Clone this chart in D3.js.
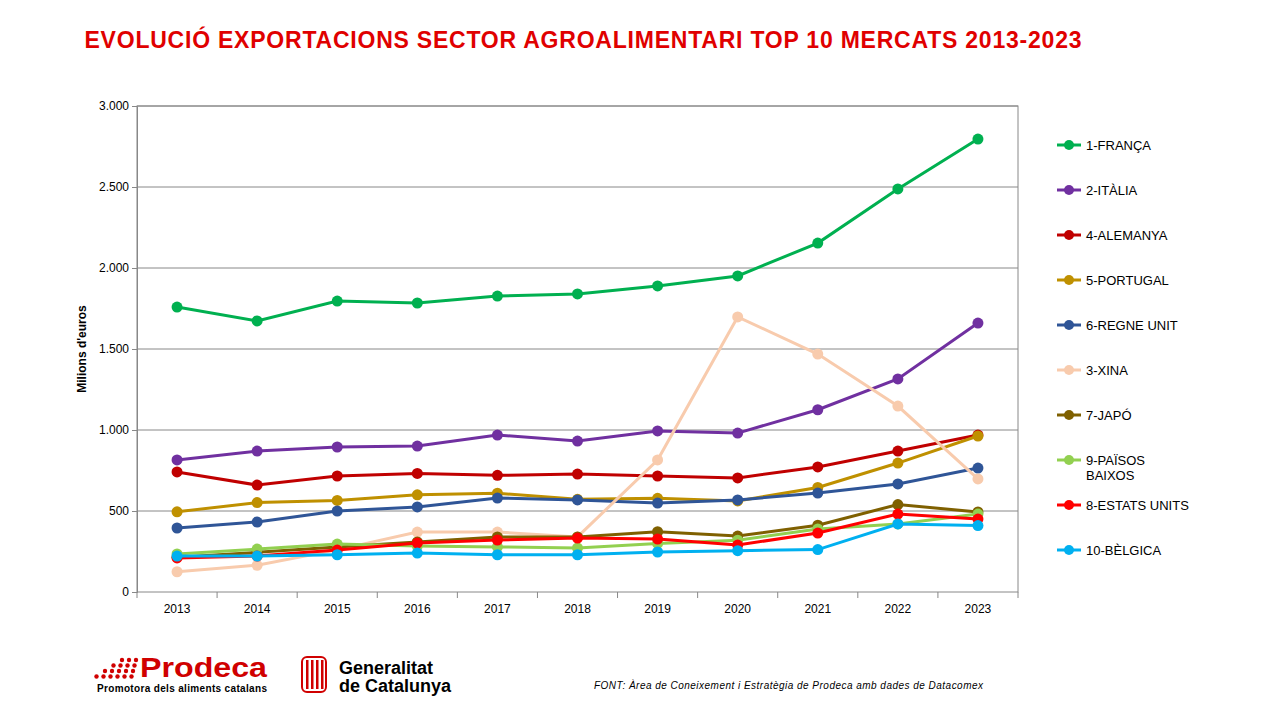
<!DOCTYPE html>
<html><head><meta charset="utf-8">
<script src="https://cdn.jsdelivr.net/npm/d3@7"></script>
<style>body{margin:0;background:#fff;font-family:Arial,"Liberation Sans",sans-serif}</style>
</head><body><svg id="c" width="1280" height="720"></svg>
<script>
var years = [2013,2014,2015,2016,2017,2018,2019,2020,2021,2022,2023];
var seriesNames = ['1-FRANÇA','2-ITÀLIA','4-ALEMANYA','5-PORTUGAL','6-REGNE UNIT','3-XINA','7-JAPÓ','9-PAÏSOS BAIXOS','8-ESTATS UNITS','10-BÈLGICA'];
var seriesColors = ['#00B050','#7030A0','#C00000','#BF9000','#2F5597','#F8CBAD','#7F6000','#92D050','#FF0000','#00B0F0'];
var franca   = [1759,1673,1796,1784,1827,1840,1889,1951,2154,2488,2796];
var italia   = [815,870,895,901,969,932,994,981,1125,1315,1660];
var alemanya = [741,660,716,732,720,728,716,704,772,870,969];
var portugal = [495,552,565,600,610,572,578,562,645,796,963];
var regneUnit= [395,432,500,525,580,568,549,568,611,667,765];
var xina     = [125,165,260,370,370,340,815,1698,1469,1148,698];
var japo     = [215,245,278,309,340,340,372,345,412,540,494];
var baixos   = [235,265,296,284,278,272,300,320,389,420,481];
var estats   = [210,222,259,302,321,333,327,290,364,481,450];
var belgica  = [222,222,230,240,230,230,247,255,262,420,410];
var allSeries = [franca,italia,alemanya,portugal,regneUnit,xina,japo,baixos,estats,belgica];
var yTicks = [0,500,1000,1500,2000,2500,3000];
var yTickLabels = ['0','500','1.000','1.500','2.000','2.500','3.000'];

var svg = d3.select('#c');
var L=137,R=1018,T=106,B=592;
var x = d3.scalePoint().domain(years).range([L,R]).padding(0.5);
var y = d3.scaleLinear().domain([0,3000]).range([B,T]);

svg.append('text').attr('x',583).attr('y',48).attr('text-anchor','middle')
  .attr('font-size',23).attr('font-weight','bold').attr('fill','#E00000')
  .attr('textLength',997).attr('lengthAdjust','spacing')
  .text('EVOLUCIÓ EXPORTACIONS  SECTOR AGROALIMENTARI TOP 10 MERCATS 2013-2023');

// grid
svg.append('g').selectAll('line').data(yTicks.slice(1)).join('line')
  .attr('x1',L).attr('x2',R).attr('y1',d=>y(d)).attr('y2',d=>y(d))
  .attr('stroke','#888').attr('stroke-width',1);
svg.append('rect').attr('x',L).attr('y',T).attr('width',R-L).attr('height',B-T)
  .attr('fill','none').attr('stroke','#888');

var ya = svg.append('g').attr('transform','translate('+L+',0)')
  .call(d3.axisLeft(y).tickValues(yTicks).tickFormat((d,i)=>yTickLabels[i]).tickSize(5));
ya.select('.domain').attr('stroke','#888');
ya.selectAll('line').attr('stroke','#888');
ya.selectAll('text').attr('font-size',12).attr('font-family','Arial').attr('fill','#000');

var xb = d3.scaleLinear().domain([0,years.length]).range([L,R]);
svg.append('g').selectAll('line').data(d3.range(years.length+1)).join('line')
  .attr('x1',d=>xb(d)).attr('x2',d=>xb(d)).attr('y1',B).attr('y2',B+6).attr('stroke','#888');
svg.append('g').selectAll('text').data(years).join('text')
  .attr('x',d=>x(d)).attr('y',B+21).attr('text-anchor','middle')
  .attr('font-size',12).text(d=>d);

svg.append('text').attr('transform','translate(86,349) rotate(-90)')
  .attr('text-anchor','middle').attr('font-size',12).attr('font-weight','bold').text("Milions d'euros");

var line = d3.line().x((d,i)=>x(years[i])).y(d=>y(d));
allSeries.forEach(function(s,k){
  var g = svg.append('g');
  g.append('path').attr('d',line(s)).attr('fill','none')
    .attr('stroke',seriesColors[k]).attr('stroke-width',3);
  g.selectAll('circle').data(s).join('circle')
    .attr('cx',(d,i)=>x(years[i])).attr('cy',d=>y(d)).attr('r',5.5).attr('fill',seriesColors[k]);
});

// legend
var lg = svg.append('g');
seriesNames.forEach(function(n,k){
  var ly = 145 + k*45;
  lg.append('line').attr('x1',1057).attr('x2',1081).attr('y1',ly).attr('y2',ly)
    .attr('stroke',seriesColors[k]).attr('stroke-width',3);
  lg.append('circle').attr('cx',1069).attr('cy',ly).attr('r',5).attr('fill',seriesColors[k]);
  var parts = n==='9-PAÏSOS BAIXOS' ? ['9-PAÏSOS','BAIXOS'] : [n];
  parts.forEach(function(p,j){
    lg.append('text').attr('x',1086).attr('y',ly+5+j*15).attr('font-size',13).text(p);
  });
});

// logos
var lo = svg.append('g');
for (var r=0;r<4;r++) for (var c=0;c<=r+2;c++)
  lo.append('circle').attr('cx',136-c*7-r*1.5).attr('cy',660+r*5.5).attr('r',2.2).attr('fill','#D00000');
lo.append('text').attr('x',140).attr('y',677).attr('font-size',28).attr('font-weight','bold')
  .attr('fill','#D00000').attr('textLength',127).attr('lengthAdjust','spacingAndGlyphs').text('Prodeca');
lo.append('text').attr('x',97).attr('y',692).attr('font-size',10).attr('font-weight','bold')
  .attr('textLength',170).text('Promotora dels aliments catalans');
lo.append('rect').attr('x',302).attr('y',657).attr('width',24).attr('height',35).attr('rx',5)
  .attr('fill','none').attr('stroke','#D00000').attr('stroke-width',2);
for (var i=0;i<4;i++) lo.append('rect').attr('x',306+i*5).attr('y',660).attr('width',2.5).attr('height',29).attr('fill','#D00000');
lo.append('text').attr('x',339).attr('y',674).attr('font-size',18).attr('font-weight','bold').text('Generalitat');
lo.append('text').attr('x',339).attr('y',692).attr('font-size',18).attr('font-weight','bold').text('de Catalunya');
svg.append('text').attr('x',983).attr('y',689).attr('text-anchor','end').attr('font-size',10)
  .attr('font-style','italic').attr('textLength',389)
  .text('FONT:  Àrea de Coneixement i Estratègia de Prodeca amb dades de Datacomex');
</script></body></html>
